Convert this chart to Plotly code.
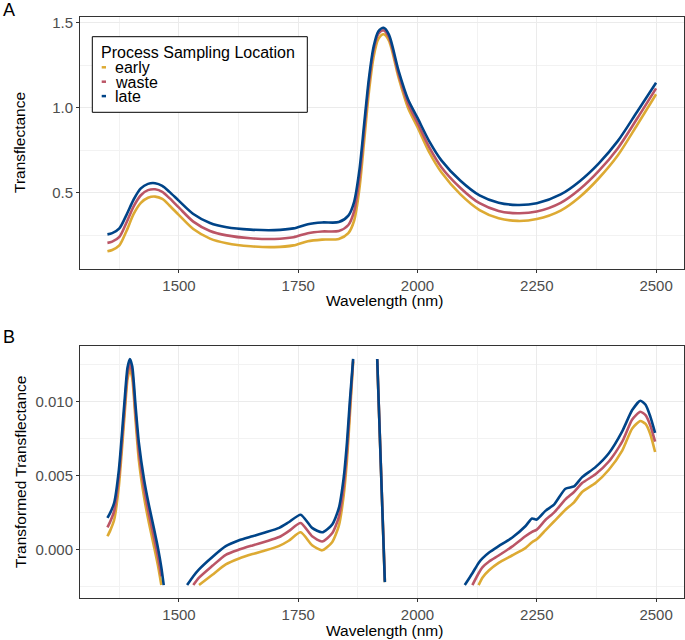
import plotly.graph_objects as go

W, H = 685, 640
FONT = "Liberation Sans, Arial, sans-serif"

series_names = ["early", "waste", "late"]
series_colors = ["#DDAA33", "#BB5566", "#004488"]

# ---------------- Panel A: Transflectance ----------------
a_wl = [1350, 1360, 1375, 1390, 1405, 1420, 1435, 1450, 1465, 1480, 1500, 1530, 1565,
        1600, 1650, 1700, 1740, 1770, 1800, 1835, 1855, 1867, 1878, 1888, 1898, 1908,
        1918, 1929, 1940, 1960, 1980, 2000, 2025, 2050, 2090, 2130, 2170, 2210, 2250,
        2300, 2340, 2380, 2420, 2460, 2500]
a_late = [0.255, 0.262, 0.290, 0.370, 0.460, 0.525, 0.552, 0.556, 0.540, 0.505, 0.452,
          0.375, 0.322, 0.297, 0.283, 0.280, 0.290, 0.315, 0.325, 0.327, 0.365, 0.445,
          0.630, 0.900, 1.170, 1.360, 1.450, 1.470, 1.430, 1.220, 1.050, 0.940, 0.800,
          0.690, 0.570, 0.484, 0.441, 0.428, 0.438, 0.490, 0.568, 0.673, 0.805, 0.975, 1.147]
a_waste = [0.205, 0.212, 0.240, 0.325, 0.420, 0.485, 0.515, 0.520, 0.505, 0.468, 0.412,
           0.330, 0.275, 0.249, 0.232, 0.228, 0.238, 0.262, 0.272, 0.275, 0.310, 0.390,
           0.580, 0.860, 1.140, 1.340, 1.435, 1.455, 1.415, 1.200, 1.025, 0.910, 0.765,
           0.650, 0.528, 0.438, 0.393, 0.379, 0.389, 0.440, 0.520, 0.628, 0.762, 0.935, 1.114]
a_early = [0.155, 0.163, 0.190, 0.275, 0.375, 0.440, 0.470, 0.477, 0.463, 0.425, 0.368,
           0.286, 0.230, 0.203, 0.185, 0.180, 0.190, 0.215, 0.224, 0.228, 0.262, 0.335,
           0.520, 0.800, 1.090, 1.300, 1.405, 1.432, 1.395, 1.180, 1.000, 0.885, 0.735,
           0.620, 0.490, 0.398, 0.350, 0.334, 0.345, 0.395, 0.475, 0.585, 0.720, 0.897, 1.079]

# ---------------- Panel B: Transformed Transflectance (segments) ----------------
b_lim = [-0.0025, 0.013]

b_wl_1 = [1350, 1356, 1364, 1374, 1385, 1392, 1397, 1402, 1409, 1416, 1427, 1437, 1448, 1456, 1463, 1468]
b_late_1 = [0.00214, 0.0025, 0.00315, 0.0054, 0.0097, 0.0123, 0.0129, 0.0124, 0.0097, 0.0072,
            0.0047, 0.0030, 0.00135, 0.0001, -0.0012, -0.0024]
b_waste_1 = [0.0015, 0.0019, 0.0026, 0.0049, 0.0092, 0.0119, 0.01255, 0.0120, 0.0092, 0.0066,
             0.0041, 0.0024, 0.00075, -0.0005, -0.0018, -0.0031]
b_early_1 = [0.0009, 0.0013, 0.0020, 0.0043, 0.0087, 0.0115, 0.0122, 0.0116, 0.0087, 0.0060,
             0.0035, 0.0018, 0.00015, -0.0011, -0.0024, -0.0037]

b_wl_2 = [1517, 1530, 1542, 1570, 1598, 1626, 1654, 1682, 1710, 1730, 1755, 1779, 1800, 1821,
          1835, 1845, 1852, 1858, 1865]
b_late_2 = [-0.0024, -0.0018, -0.00134, -0.0005, 0.00023, 0.00063, 0.0009, 0.00117, 0.00147,
            0.00185, 0.00236, 0.00147, 0.00117, 0.00169, 0.0028, 0.0048, 0.0072, 0.0100, 0.0129]
b_waste_2 = [-0.0033, -0.0024, -0.0019, -0.0011, -0.00035, 0.0000, 0.00028, 0.00055, 0.00085,
             0.00125, 0.0018, 0.0009, 0.00055, 0.0011, 0.0022, 0.0042, 0.0066, 0.0095, 0.0128]
b_early_2 = [-0.0040, -0.0031, -0.0024, -0.0017, -0.0010, -0.0006, -0.0003, -0.00005, 0.00025,
             0.0006, 0.00117, 0.0003, -0.00005, 0.0005, 0.0016, 0.0036, 0.0060, 0.0090, 0.0127]

b_wl_3 = [1915.5, 1923.5, 1931.5]
b_late_3 = [0.0129, 0.0053, -0.0022]
b_waste_3 = [0.0129, 0.0054, -0.0021]
b_early_3 = [0.0128, 0.0053, -0.0022]

b_wl_4 = [2099, 2115, 2128, 2136, 2150, 2170, 2198, 2226, 2240, 2250, 2268, 2286, 2310, 2328,
          2345, 2373, 2401, 2429, 2450, 2467, 2478, 2488, 2498]
b_late_4 = [-0.0024, -0.0016, -0.0009, -0.0006, -0.0002, 0.00023, 0.0008, 0.00158, 0.0021,
            0.00203, 0.00262, 0.00304, 0.00412, 0.00427, 0.0049, 0.00558, 0.00652, 0.0080,
            0.00944, 0.01007, 0.0098, 0.0090, 0.0079]
b_waste_4 = [-0.0035, -0.0024, -0.0016, -0.0012, -0.0008, -0.0004, 0.0002, 0.0009, 0.0012,
             0.00135, 0.0020, 0.0025, 0.0034, 0.0039, 0.0045, 0.0051, 0.00596, 0.0073, 0.0088,
             0.00933, 0.0091, 0.0084, 0.0073]
b_early_4 = [-0.0045, -0.0033, -0.0024, -0.0019, -0.0014, -0.0009, -0.0004, 0.0001, 0.0005,
             0.0007, 0.0013, 0.0019, 0.0027, 0.0032, 0.0039, 0.0045, 0.0054, 0.0067, 0.0082,
             0.0087, 0.0085, 0.0078, 0.0066]

x_ticks = [1500, 1750, 2000, 2250, 2500]
a_yticks = [0.5, 1.0, 1.5]
b_yticks = [0.000, 0.005, 0.010]

b_segments = {
    "early": [(b_wl_1, b_early_1), (b_wl_2, b_early_2), (b_wl_3, b_early_3), (b_wl_4, b_early_4)],
    "waste": [(b_wl_1, b_waste_1), (b_wl_2, b_waste_2), (b_wl_3, b_waste_3), (b_wl_4, b_waste_4)],
    "late": [(b_wl_1, b_late_1), (b_wl_2, b_late_2), (b_wl_3, b_late_3), (b_wl_4, b_late_4)],
}
a_values = {"early": a_early, "waste": a_waste, "late": a_late}


def join_segments(segs, lo, hi):
    xs, ys = [], []
    for wl, v in segs:
        if xs:
            xs.append(None)
            ys.append(None)
        for w, y in zip(wl, v):
            xs.append(w)
            ys.append(y if lo <= y <= hi else None)
    return xs, ys


fig = go.Figure()
for name, col in zip(series_names, series_colors):
    fig.add_trace(go.Scatter(x=a_wl, y=a_values[name], mode="lines", name=name,
                             line=dict(color=col, width=2.6, shape="spline", smoothing=0.8),
                             xaxis="x", yaxis="y", showlegend=False))
for name, col in zip(series_names, series_colors):
    bx, by = join_segments(b_segments[name], b_lim[0], b_lim[1])
    fig.add_trace(go.Scatter(x=bx, y=by, mode="lines", name=name, connectgaps=False,
                             line=dict(color=col, width=2.6, shape="spline", smoothing=0.6),
                             xaxis="x2", yaxis="y2", showlegend=False))


def px(x):
    return x / W


def py(y):
    return 1 - y / H


x_dom = [px(80), px(683.5)]
a_dom = [py(269), py(17)]
b_dom = [py(598), py(346)]
x_range = [1292.5, 2557.5]

axis_common = dict(showline=True, mirror=True, linecolor="#333333", linewidth=1,
                   ticks="outside", ticklen=3, tickwidth=1, tickcolor="#333333",
                   showgrid=True, gridcolor="#EBEBEB", gridwidth=1.1, zeroline=False,
                   automargin=False,
                   tickfont=dict(family=FONT, size=15, color="#4D4D4D"))

fig.update_layout(
    width=W, height=H, margin=dict(l=0, r=0, t=0, b=0, autoexpand=False),
    paper_bgcolor="white", plot_bgcolor="white",
    font=dict(family=FONT, color="black"),
    xaxis=dict(domain=x_dom, anchor="y", range=x_range, tickvals=x_ticks,
               minor=dict(dtick=125, tick0=1375, showgrid=True, gridcolor="#F2F2F2", gridwidth=0.6),
               **axis_common),
    yaxis=dict(domain=a_dom, anchor="x", range=[0.0512, 1.5335], tickvals=a_yticks,
               tickformat=".1f",
               minor=dict(dtick=0.25, tick0=0, showgrid=True, gridcolor="#F2F2F2", gridwidth=0.6),
               **axis_common),
    xaxis2=dict(domain=x_dom, anchor="y2", range=x_range, tickvals=x_ticks,
                minor=dict(dtick=125, tick0=1375, showgrid=True, gridcolor="#F2F2F2", gridwidth=0.6),
                **axis_common),
    yaxis2=dict(domain=b_dom, anchor="x2", range=[-0.003275, 0.013775], tickvals=b_yticks,
                tickformat=".3f",
                minor=dict(dtick=0.0025, tick0=0, showgrid=True, gridcolor="#F2F2F2", gridwidth=0.6),
                **axis_common),
)

annos = []
# axis titles
annos.append(dict(text="Wavelength (nm)", x=px(384), y=py(300), xref="paper", yref="paper",
                  showarrow=False, xanchor="center", yanchor="middle", font=dict(size=15.5)))
annos.append(dict(text="Wavelength (nm)", x=px(384), y=py(630), xref="paper", yref="paper",
                  showarrow=False, xanchor="center", yanchor="middle", font=dict(size=15.5)))
annos.append(dict(text="Transflectance", x=px(20), y=py(143), xref="paper", yref="paper",
                  showarrow=False, textangle=-90, xanchor="center", yanchor="middle",
                  font=dict(size=15.5)))
annos.append(dict(text="Transformed Transflectance", x=px(20), y=py(472), xref="paper",
                  yref="paper", showarrow=False, textangle=-90, xanchor="center",
                  yanchor="middle", font=dict(size=15.5)))
# panel tags
annos.append(dict(text="A", x=px(1), y=py(10), xref="paper", yref="paper", showarrow=False,
                  xanchor="left", yanchor="middle", font=dict(size=18)))
annos.append(dict(text="B", x=px(1), y=py(337), xref="paper", yref="paper", showarrow=False,
                  xanchor="left", yanchor="middle", font=dict(size=18)))

# legend (drawn inside panel A)
leg_left, leg_top, leg_right, leg_bottom = 92.3, 36.7, 307.3, 112.3
shapes = [dict(type="rect", xref="paper", yref="paper", x0=px(leg_left), x1=px(leg_right),
               y0=py(leg_bottom), y1=py(leg_top), line=dict(color="black", width=1),
               fillcolor="white", layer="above")]
annos.append(dict(text="Process Sampling Location", x=px(99), y=py(52.5), xref="paper",
                  yref="paper", showarrow=False, xanchor="left", yanchor="middle",
                  font=dict(size=16)))
for i, (name, col) in enumerate(zip(series_names, series_colors)):
    ky = 67.3 + i * 14.4
    shapes.append(dict(type="line", xref="paper", yref="paper", x0=px(101.7), x1=px(106),
                       y0=py(ky), y1=py(ky), line=dict(color=col, width=2.5), layer="above"))
    annos.append(dict(text=name, x=px(113), y=py(ky + 0.5), xref="paper", yref="paper",
                      showarrow=False, xanchor="left", yanchor="middle",
                      font=dict(size=16)))

fig.update_layout(annotations=annos, shapes=shapes)
fig.write_html("out.html", config={"displayModeBar": False},
               post_script="document.body.style.margin='0';document.body.style.overflow='hidden';")
